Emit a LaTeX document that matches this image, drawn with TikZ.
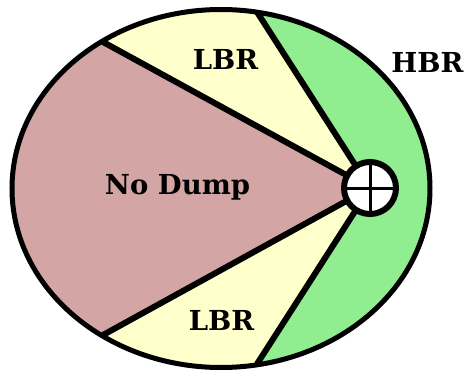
\documentclass[tikz,border=0pt]{standalone}
\usepackage{fontspec}
\setmainfont{DejaVu Serif}
\usetikzlibrary{calc}
\definecolor{nodump}{HTML}{D4A5A5}
\definecolor{lbrfill}{HTML}{FFFFCC}
\definecolor{hbrfill}{HTML}{90EE90}
\begin{document}
\begin{tikzpicture}[x=1pt,y=-1pt,
  divider/.style={line width=6pt},
  rim/.style={line width=5pt},
  zonelabel/.style={font=\bfseries\fontsize{27.5}{32}\selectfont, inner sep=0pt, anchor=base},
  hubstyle/.style={circle, draw, line width=6pt, fill=white, minimum size=52pt, inner sep=0pt}]
  \useasboundingbox (0,0) rectangle (464,372);
  % geometry
  \coordinate (c) at (370,188);
  \coordinate (p1) at (103,42);
  \coordinate (p2) at (257,12);
  \coordinate (p3) at (103,335);
  \coordinate (p4) at (257,364);
  \coordinate (e1) at ($(p1)!-0.6!(c)$);
  \coordinate (e2) at ($(p2)!-0.6!(c)$);
  \coordinate (e3) at ($(p3)!-0.6!(c)$);
  \coordinate (e4) at ($(p4)!-0.6!(c)$);
  % coloured zones, clipped to the outline
  \begin{scope}
    \clip (221,188.5) ellipse [x radius=209, y radius=179];
    \fill[hbrfill] (0,0) rectangle (464,372);
    \fill[nodump] (c) -- (e1) -- (e3) -- cycle;
    \fill[lbrfill] (c) -- (e1) -- (e2) -- cycle;
    \fill[lbrfill] (c) -- (e3) -- (e4) -- cycle;
  \end{scope}
  % zone boundaries
  \draw[divider] (c) -- (p1);
  \draw[divider] (c) -- (p2);
  \draw[divider] (c) -- (p3);
  \draw[divider] (c) -- (p4);
  \draw[rim] (221,188.5) ellipse [x radius=209, y radius=179];
  % summing junction
  \node[hubstyle] (hub) at (c) {};
  \draw[line width=3pt] (hub.north) -- (hub.south);
  \draw[line width=3pt] (hub.west) -- (hub.east);
  % labels
  \node[zonelabel] (lbrtop) at (225.5,69.5) {LBR};
  \node[zonelabel] (nodump) at (177.5,194) {No Dump};
  \node[zonelabel] (lbrbot) at (221.5,330) {LBR};
  \node[zonelabel] (hbr) at (427.5,72.5) {HBR};
\end{tikzpicture}
\end{document}
